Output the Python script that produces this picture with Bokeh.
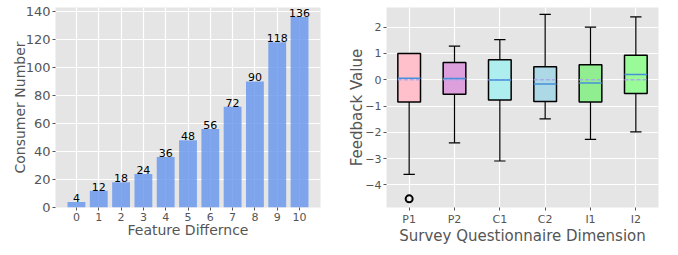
import numpy as np
from bokeh.plotting import figure
from bokeh.layouts import row
from bokeh.models import ColumnDataSource, LabelSet, FixedTicker, Range1d
from bokeh.core.properties import value
from bokeh.embed import file_html
from bokeh.resources import INLINE

# ---- data: left bar chart ----
feature_diff = list(range(11))
consumer_number = [4, 12, 18, 24, 36, 48, 56, 72, 90, 118, 136]

# ---- data: right box plot ----
dims = ["P1", "P2", "C1", "C2", "I1", "I2"]
box_q1 = [-0.85, -0.55, -0.77, -0.83, -0.85, -0.52]
box_median = [0.06, 0.05, -0.01, -0.16, -0.12, 0.20]
box_q3 = [1.00, 0.66, 0.76, 0.50, 0.57, 0.93]
whisker_low = [-3.60, -2.40, -3.09, -1.49, -2.27, -1.98]
whisker_high = [1.00, 1.28, 1.53, 2.49, 2.00, 2.39]
box_mean = [0.0, 0.0, 0.0, 0.0, 0.0, 0.0]
outlier_dim = ["P1"]
outlier_val = [-4.53]
box_colors = ["#FFC0CB", "#DDA0DD", "#AFEEEE", "#ADD8E6", "#90EE90", "#98FB98"]

FONT = "DejaVu Sans"
BG = "#E5E5E5"
TXT = "#555555"


def style(p, tick_size_x, tick_size_y, label_size, ylab_standoff):
    p.background_fill_color = BG
    p.border_fill_color = "white"
    p.outline_line_color = None
    for g in (p.xgrid[0], p.ygrid[0]):
        g.grid_line_color = "white"
        g.grid_line_width = 1.2
    for ax, ts in ((p.xaxis[0], tick_size_x), (p.yaxis[0], tick_size_y)):
        ax.axis_line_color = None
        ax.major_tick_line_color = TXT
        ax.major_tick_out = 3
        ax.major_tick_in = 0
        ax.minor_tick_line_color = None
        ax.major_label_text_font = FONT
        ax.major_label_text_font_size = ts
        ax.major_label_text_color = TXT
        ax.axis_label_text_font = FONT
        ax.axis_label_text_font_size = label_size
        ax.axis_label_text_color = TXT
        ax.axis_label_text_font_style = "normal"
        ax.major_label_standoff = 2
    p.xaxis[0].axis_label_standoff = -2
    p.yaxis[0].axis_label_standoff = ylab_standoff


# ---- left figure ----
p1 = figure(width=332, height=247, output_backend="svg", toolbar_location=None,
            x_range=Range1d(-0.94, 10.94), y_range=Range1d(0, 142.8),
            min_border_left=55, min_border_right=12, min_border_top=7, min_border_bottom=0)
src1 = ColumnDataSource(dict(x=feature_diff, y=consumer_number,
                             t=[str(v) for v in consumer_number]))
p1.vbar(x="x", top="y", width=0.8, source=src1, fill_color="#6495ED",
        fill_alpha=0.8, line_color=None)
p1.add_layout(LabelSet(x="x", y="y", text="t", source=src1, text_align="center",
                       text_baseline="bottom", y_offset=0, text_font=value(FONT),
                       text_font_size=value("11px"), text_color="black"))
style(p1, "11px", "13px", "14px", -5)
p1.xaxis.ticker = FixedTicker(ticks=feature_diff)
p1.yaxis.ticker = FixedTicker(ticks=list(range(0, 141, 20)))
p1.xaxis.axis_label = "Feature Differnce"
p1.yaxis.axis_label = "Consumer Number"

# ---- right figure ----
xs = np.arange(1, len(dims) + 1)
p2 = figure(width=330, height=247, output_backend="svg", toolbar_location=None,
            x_range=Range1d(0.5, 6.5), y_range=Range1d(-4.86, 2.75),
            min_border_left=54, min_border_right=4, min_border_top=0, min_border_bottom=0)
bw = 0.5
cw = 0.25
# whiskers
p2.segment(x0=xs, y0=box_q3, x1=xs, y1=whisker_high, line_color="black", line_width=1.2)
p2.segment(x0=xs, y0=box_q1, x1=xs, y1=whisker_low, line_color="black", line_width=1.2)
p2.segment(x0=xs - cw / 2, y0=whisker_high, x1=xs + cw / 2, y1=whisker_high,
           line_color="black", line_width=1.2)
p2.segment(x0=xs - cw / 2, y0=whisker_low, x1=xs + cw / 2, y1=whisker_low,
           line_color="black", line_width=1.2)
# boxes
p2.vbar(x=xs, top=box_q3, bottom=box_q1, width=bw, fill_color=box_colors,
        line_color="black", line_width=1.5)
# mean (dashed) and median
p2.segment(x0=xs - bw / 2, y0=box_mean, x1=xs + bw / 2, y1=box_mean,
           line_color="#A9A4EC", line_width=1.5, line_dash="4 2", line_alpha=0.9)
p2.segment(x0=xs - bw / 2, y0=box_median, x1=xs + bw / 2, y1=box_median,
           line_color="#4A90D9", line_width=1.5)
# outliers
ox = [dims.index(d) + 1 for d in outlier_dim]
p2.scatter(x=ox, y=outlier_val, marker="circle", size=7, fill_color=None,
           line_color="black", line_width=2)
style(p2, "11px", "11px", "15px", -4)
p2.xaxis.ticker = FixedTicker(ticks=list(xs))
p2.xaxis.major_label_overrides = {int(i): d for i, d in zip(xs, dims)}
yt = [-4, -3, -2, -1, 0, 1, 2]
p2.yaxis.ticker = FixedTicker(ticks=yt)
p2.yaxis.major_label_overrides = {v: (str(v).replace("-", "\u2212")) for v in yt}
p2.xaxis.axis_label = "Survey Questionnaire Dimension"
p2.yaxis.axis_label = "Feedback Value"

layout = row(p1, p2)
open("out.html", "w").write(file_html(layout, INLINE))
